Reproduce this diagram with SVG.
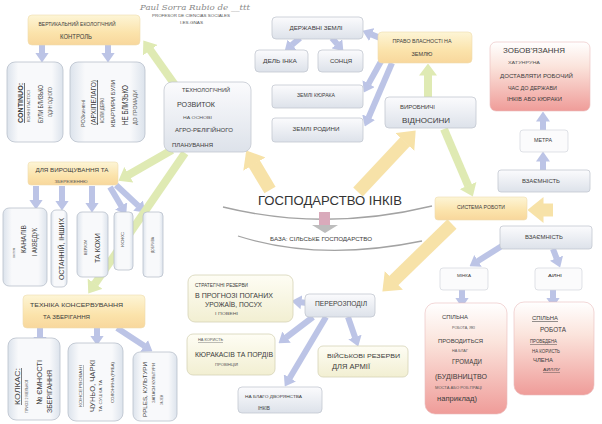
<svg xmlns="http://www.w3.org/2000/svg" width="602" height="424" viewBox="0 0 602 424">
<defs>
<linearGradient id="gB" x1="0" y1="0" x2="0" y2="1"><stop offset="0" stop-color="#fbfbfd"/><stop offset="1" stop-color="#dde2ea"/></linearGradient>
<linearGradient id="gO" x1="0" y1="0" x2="0" y2="1"><stop offset="0" stop-color="#fdf5d6"/><stop offset="0.6" stop-color="#fbe3ab"/><stop offset="1" stop-color="#f8d79c"/></linearGradient>
<linearGradient id="gP" x1="0" y1="0" x2="0" y2="1"><stop offset="0" stop-color="#ffffff"/><stop offset="0.35" stop-color="#fbe4dc"/><stop offset="1" stop-color="#ef9c99"/></linearGradient>
<linearGradient id="gC" x1="0" y1="0" x2="0" y2="1"><stop offset="0" stop-color="#fefdf4"/><stop offset="1" stop-color="#f2efd2"/></linearGradient>
<linearGradient id="gV" x1="0" y1="0" x2="1" y2="0"><stop offset="0" stop-color="#dce3ec"/><stop offset="0.2" stop-color="#f8f9fb"/><stop offset="0.8" stop-color="#f8f9fb"/><stop offset="1" stop-color="#dce3ec"/></linearGradient>
<marker id="hb" markerUnits="userSpaceOnUse" viewBox="0 0 10 14" markerWidth="10" markerHeight="14" refX="0.5" refY="7" orient="auto"><path d="M0,0 L10,7 L0,14z" fill="#bcc4e6"/></marker>
<marker id="hg" markerUnits="userSpaceOnUse" viewBox="0 0 12 18" markerWidth="12" markerHeight="18" refX="0.5" refY="9" orient="auto"><path d="M0,0 L12,9 L0,18z" fill="#dfeab3"/></marker>
<marker id="hy" markerUnits="userSpaceOnUse" viewBox="0 0 16 26" markerWidth="16" markerHeight="26" refX="0.5" refY="13" orient="auto"><path d="M0,0 L16,13 L0,26z" fill="#f7e2a8"/></marker>
</defs>
<style>
text{font-family:"Liberation Sans",Arial,sans-serif;fill:#3c3c3c}
.bx{fill:url(#gB);stroke:#c3c8d1;stroke-width:0.8}
.bo{fill:url(#gO);stroke:#eedcae;stroke-width:0.6}
.bp{fill:url(#gP);stroke:#e9bcbc;stroke-width:0.6}
.bc{fill:url(#gC);stroke:#d5d3b6;stroke-width:0.8}
.bv{fill:url(#gV);stroke:#b9c0cb;stroke-width:0.8}
.bw{fill:#fbfbfc;stroke:#d3d6dc;stroke-width:0.7}
.ab{stroke:#bcc4e6;stroke-width:6;fill:none;marker-end:url(#hb)}
.ag{stroke:#dfeab3;stroke-width:8;fill:none;marker-end:url(#hg)}
.ay{stroke:#f7e2a8;stroke-width:13;fill:none;marker-end:url(#hy)}
.s{fill:#555}
.u{text-decoration:underline}
</style>
<rect width="602" height="424" fill="#ffffff"/>

<g id="header">
<text x="140" y="10" font-size="8" font-style="italic" style="font-family:'DejaVu Serif',serif;fill:#8a8a8a" textLength="110" lengthAdjust="spacingAndGlyphs">Paul Sorra Rubio de __ttt</text>
<text x="152" y="17" font-size="4" class="s" textLength="78" lengthAdjust="spacingAndGlyphs">PROFESOR DE CIENCIAS SOCIALES</text>
<text x="180" y="24" font-size="3.8" class="s" textLength="23" lengthAdjust="spacingAndGlyphs">I.ES.GNAS</text>
</g>

<g id="connectors">
<line class="ab" x1="42" y1="45" x2="42" y2="53"/>
<line class="ab" x1="108" y1="45" x2="108" y2="53"/>
<line class="ab" x1="36" y1="186" x2="36" y2="200"/>
<line class="ab" x1="62" y1="186" x2="62" y2="201"/>
<line class="ab" x1="92" y1="186" x2="92" y2="203"/>
<line class="ab" x1="110" y1="187" x2="121.4" y2="206.3"/>
<line class="ab" x1="116" y1="185" x2="138.4" y2="205.9"/>
<line class="ab" x1="40" y1="328" x2="40" y2="337"/>
<line class="ab" x1="97" y1="328" x2="97" y2="336"/>
<line class="ab" x1="117" y1="328" x2="144.5" y2="346.1"/>
<line class="ab" x1="300" y1="38" x2="291.8" y2="45.1"/>
<line class="ab" x1="332" y1="38" x2="337.2" y2="44.1"/>
<line class="ab" x1="390" y1="42" x2="371.3" y2="34.4"/>
<line class="ab" x1="384" y1="56" x2="368.4" y2="84.1"/>
<line class="ab" x1="392" y1="63" x2="368.5" y2="117.7"/>
<line class="ab" x1="543" y1="130" x2="543" y2="121"/>
<line class="ab" x1="543" y1="170" x2="543" y2="161"/>
<line class="ab" x1="505" y1="244" x2="477.6" y2="261.2"/>
<line class="ab" x1="553" y1="249" x2="556.7" y2="258.6"/>
<line class="ab" x1="462" y1="290" x2="462" y2="298"/>
<line class="ab" x1="553" y1="290" x2="553" y2="298"/>
<line class="ab" x1="307" y1="303" x2="300.9" y2="302.2"/>
<line class="ab" x1="313" y1="317" x2="286.1" y2="337.5"/>
<line class="ab" x1="326" y1="317" x2="289.6" y2="378.3"/>
<line class="ab" x1="348" y1="317" x2="355.1" y2="337.5"/>
<line class="ag" x1="180" y1="92" x2="150" y2="49.8"/>
<line class="ag" x1="172" y1="150" x2="128.4" y2="175"/>
<line class="ag" x1="185" y1="153" x2="94.8" y2="284.1"/>
<line class="ag" x1="428" y1="97" x2="428" y2="75"/>
<line class="ag" x1="444" y1="129" x2="468.3" y2="186"/>
<line class="ay" x1="270" y1="190" x2="254.2" y2="163.7"/>
<line class="ay" x1="358" y1="192" x2="405.1" y2="141.7"/>
<line class="ay" x1="452" y1="224" x2="393.5" y2="280.8"/>
<line class="ay" x1="553" y1="210" x2="543" y2="210"/>
</g>

<g id="vertical-control">
<rect class="bo" x="28" y="15" width="112" height="30" rx="4"/>
<text x="77" y="26" font-size="5" text-anchor="middle" textLength="77" lengthAdjust="spacingAndGlyphs">ВЕРТИКАЛЬНИЙ ЕКОЛОГІЧНИЙ</text>
<text x="76" y="39" font-size="6.5" text-anchor="middle" textLength="32" lengthAdjust="spacingAndGlyphs">КОНТРОЛЬ</text>
</g>

<g id="continuo">
<rect class="bv" x="7" y="62" width="56" height="80" rx="8"/>
<text transform="translate(23,123) rotate(-90)" font-size="7" font-weight="bold" class="u" textLength="40" lengthAdjust="spacingAndGlyphs">CONTINUO:</text>
<text transform="translate(29.5,122) rotate(-90)" font-size="4" class="s" textLength="32" lengthAdjust="spacingAndGlyphs">КОЖНІ ПАСТОСІ</text>
<text transform="translate(43,123) rotate(-90)" font-size="7.5" textLength="38" lengthAdjust="spacingAndGlyphs">БУЛИ БЛИЗЬКО</text>
<text transform="translate(52,117) rotate(-90)" font-size="5" class="s" textLength="30" lengthAdjust="spacingAndGlyphs">ОДИН ОДНОГО</text>
</g>

<g id="archipelago">
<rect class="bv" x="70" y="62" width="75" height="80" rx="8"/>
<text transform="translate(85,127) rotate(-90)" font-size="4.5" class="s" textLength="27" lengthAdjust="spacingAndGlyphs">РОЗкинені</text>
<text transform="translate(96,125) rotate(-90)" font-size="7" class="u" textLength="45" lengthAdjust="spacingAndGlyphs">(АРХІПЕЛАГО)</text>
<text transform="translate(104,123) rotate(-90)" font-size="4.5" class="s" textLength="25" lengthAdjust="spacingAndGlyphs">КОЛИ ДЕРКІ</text>
<text transform="translate(115,127) rotate(-90)" font-size="6" textLength="47" lengthAdjust="spacingAndGlyphs">КВАРТИРИ БУЛИ</text>
<text transform="translate(128,125) rotate(-90)" font-size="8.5" textLength="40" lengthAdjust="spacingAndGlyphs">НЕ БЛИЗЬКО</text>
<text transform="translate(137,125) rotate(-90)" font-size="5" class="s" textLength="35" lengthAdjust="spacingAndGlyphs">ДО ГРОМАДИ</text>
</g>

<g id="tech-development">
<rect class="bx" x="164" y="82" width="87" height="70" rx="8"/>
<text x="182" y="92" font-size="5" textLength="48" lengthAdjust="spacingAndGlyphs">ТЕХНОЛОГІЧНИЙ</text>
<text x="177" y="107" font-size="8" textLength="38" lengthAdjust="spacingAndGlyphs">РОЗВИТОК</text>
<text x="183" y="119" font-size="4" class="s" textLength="29" lengthAdjust="spacingAndGlyphs">НА ОСНОВІ</text>
<text x="175" y="132" font-size="6" textLength="58" lengthAdjust="spacingAndGlyphs">АГРО-РЕЛІГІЙНОГО</text>
<text x="172" y="147" font-size="6" textLength="41" lengthAdjust="spacingAndGlyphs">ПЛАНУВАННЯ</text>
</g>

<g id="growing">
<rect class="bo" x="28" y="162" width="90" height="23" rx="3"/>
<text x="72" y="172" font-size="5.5" text-anchor="middle" textLength="73" lengthAdjust="spacingAndGlyphs">ДЛЯ ВИРОЩУВАННЯ ТА</text>
<text x="71" y="183" font-size="3.8" class="s" text-anchor="middle" textLength="33" lengthAdjust="spacingAndGlyphs">ЗБЕРЕЖЕННЮ</text>
</g>

<g id="canals">
<rect class="bv" x="3" y="208" width="44" height="78" rx="6"/>
<text transform="translate(15,258) rotate(-90)" font-size="4" class="s" textLength="10" lengthAdjust="spacingAndGlyphs">систем</text>
<text transform="translate(26,253) rotate(-90)" font-size="7" textLength="28" lengthAdjust="spacingAndGlyphs">КАНАЛІВ</text>
<text transform="translate(37,256) rotate(-90)" font-size="7" textLength="28" lengthAdjust="spacingAndGlyphs">І АКВЕДУК</text>
</g>
<g id="others">
<rect class="bv" x="51" y="210" width="16" height="77" rx="5"/>
<text transform="translate(63.5,280) rotate(-90)" font-size="6.5" textLength="62" lengthAdjust="spacingAndGlyphs">ОСТАННІЙ, ІНШИХ</text>
</g>
<g id="verkhom">
<rect class="bv" x="77" y="212" width="31" height="65" rx="5"/>
<text transform="translate(87,255) rotate(-90)" font-size="4" class="s" textLength="15" lengthAdjust="spacingAndGlyphs">ВЕРХОМ</text>
<text transform="translate(100,263) rotate(-90)" font-size="7" textLength="30" lengthAdjust="spacingAndGlyphs">ТА КОХИ</text>
</g>
<g id="koks">
<rect class="bv" x="114" y="212" width="19" height="58" rx="4"/>
<text transform="translate(124,247) rotate(-90)" font-size="4" class="s" textLength="15" lengthAdjust="spacingAndGlyphs">КОКС</text>
</g>
<g id="fertilizer">
<rect class="bv" x="143" y="212" width="20" height="65" rx="4"/>
<text transform="translate(154,253) rotate(-90)" font-size="4" class="s" textLength="16" lengthAdjust="spacingAndGlyphs">ДОБРИВА</text>
</g>

<g id="conservation">
<rect class="bo" x="23" y="295" width="122" height="33" rx="4"/>
<text x="30" y="307" font-size="6" textLength="93" lengthAdjust="spacingAndGlyphs">ТЕХНІКА КОНСЕРВУВАННЯ</text>
<text x="43" y="319" font-size="5.5" textLength="47" lengthAdjust="spacingAndGlyphs">ТА ЗБЕРІГАННЯ</text>
</g>

<g id="kolkas">
<rect class="bv" x="8" y="338" width="52" height="82" rx="8"/>
<text transform="translate(20,405) rotate(-90)" font-size="6.5" class="u" textLength="37" lengthAdjust="spacingAndGlyphs">КОЛКАС:</text>
<text transform="translate(28,413) rotate(-90)" font-size="3.8" class="s" textLength="33" lengthAdjust="spacingAndGlyphs">ПРИОЗ 2 МЕЛЬНОЇ</text>
<text transform="translate(42,405) rotate(-90)" font-size="8" textLength="45" lengthAdjust="spacingAndGlyphs">№ ЄМНОСТІ</text>
<text transform="translate(52,413) rotate(-90)" font-size="6.5" textLength="43" lengthAdjust="spacingAndGlyphs">ЗБЕРІГАННЯ</text>
</g>
<g id="chuno">
<rect class="bv" x="68" y="343" width="55" height="78" rx="8"/>
<text transform="translate(82,407) rotate(-90)" font-size="3.8" class="s u" textLength="42" lengthAdjust="spacingAndGlyphs">КОНСЕРВОВАНІ</text>
<text transform="translate(95,412) rotate(-90)" font-size="7" textLength="52" lengthAdjust="spacingAndGlyphs">ЧУНЬО, ЧАРКІ</text>
<text transform="translate(102,412) rotate(-90)" font-size="4" class="s" textLength="32" lengthAdjust="spacingAndGlyphs">ТА СУШКА ТА</text>
<text transform="translate(114,403) rotate(-90)" font-size="4" class="s" textLength="41" lengthAdjust="spacingAndGlyphs">СОЛОНИНА (РИБА)</text>
</g>
<g id="cultures">
<rect class="bv" x="133" y="352" width="44" height="69" rx="7"/>
<text transform="translate(147,417) rotate(-90)" font-size="5.5" textLength="55" lengthAdjust="spacingAndGlyphs">РРLES, КУЛЬТУРИ</text>
<text transform="translate(155,403) rotate(-90)" font-size="3.8" class="s" textLength="40" lengthAdjust="spacingAndGlyphs">ЗАПАСИ КУЛЬТУРИ</text>
<text transform="translate(163,405) rotate(-90)" font-size="3.5" class="s" textLength="10" lengthAdjust="spacingAndGlyphs">ЗА ЗЕМ</text>
</g>

<g id="state-lands">
<rect class="bx" x="272" y="17" width="91" height="22" rx="4"/>
<text x="316" y="30" font-size="6" text-anchor="middle" textLength="53" lengthAdjust="spacingAndGlyphs">ДЕРЖАВНІ ЗЕМЛІ</text>
</g>
<g id="inca-part">
<rect class="bx" x="255" y="50" width="53" height="22" rx="4"/>
<text x="280" y="63" font-size="6" text-anchor="middle" textLength="34" lengthAdjust="spacingAndGlyphs">ДЕЛЬ ІНКА</text>
</g>
<g id="sun">
<rect class="bx" x="318" y="50" width="45" height="22" rx="4"/>
<text x="341" y="63" font-size="6" text-anchor="middle" textLength="22" lengthAdjust="spacingAndGlyphs">СОНЦЯ</text>
</g>
<g id="kuraka-lands">
<rect class="bx" x="272" y="85" width="91" height="23" rx="3"/>
<text x="316" y="97" font-size="4.5" text-anchor="middle" textLength="38" lengthAdjust="spacingAndGlyphs">ЗЕМЛІ КЮРАКА</text>
</g>
<g id="family-lands">
<rect class="bx" x="272" y="118" width="91" height="24" rx="3"/>
<text x="316" y="131" font-size="5.5" text-anchor="middle" textLength="47" lengthAdjust="spacingAndGlyphs">ЗЕМЛІ РОДИНИ</text>
</g>

<g id="land-right">
<rect class="bo" x="378" y="32" width="94" height="31" rx="4"/>
<text x="422" y="43" font-size="4.5" text-anchor="middle" textLength="59" lengthAdjust="spacingAndGlyphs">ПРАВО ВЛАСНОСТІ НА</text>
<text x="422" y="56" font-size="5.5" text-anchor="middle" textLength="21" lengthAdjust="spacingAndGlyphs">ЗЕМЛЮ</text>
</g>
<g id="production-relations">
<rect class="bx" x="385" y="97" width="91" height="31" rx="4"/>
<text x="400" y="109" font-size="5" textLength="35" lengthAdjust="spacingAndGlyphs">ВИРОБНИЧІ</text>
<text x="402" y="123" font-size="8" textLength="48" lengthAdjust="spacingAndGlyphs">ВІДНОСИНИ</text>
</g>

<g id="obligation">
<rect class="bp" x="490" y="42" width="100" height="69" rx="6"/>
<text x="503" y="53" font-size="8" textLength="62" lengthAdjust="spacingAndGlyphs">ЗОБОВ'ЯЗАННЯ</text>
<text x="508" y="64" font-size="4" class="s" textLength="32" lengthAdjust="spacingAndGlyphs">ХАТУНРУНА</text>
<text x="500" y="78" font-size="5.5" textLength="73" lengthAdjust="spacingAndGlyphs">ДОСТАВЛЯТИ РОБОЧИЙ</text>
<text x="508" y="90" font-size="5.5" textLength="49" lengthAdjust="spacingAndGlyphs">ЧАС ДО ДЕРЖАВИ</text>
<text x="507" y="101" font-size="5.5" textLength="55" lengthAdjust="spacingAndGlyphs">ІНКІВ АБО КЮРАКИ</text>
</g>
<g id="metra">
<rect class="bw" x="520" y="130" width="48" height="22" rx="3"/>
<text x="543" y="142" font-size="4.5" text-anchor="middle" textLength="18" lengthAdjust="spacingAndGlyphs">МЕТРА</text>
</g>
<g id="reciprocity-top">
<rect class="bx" x="498" y="170" width="92" height="22" rx="3"/>
<text x="541" y="183" font-size="6" text-anchor="middle" textLength="38" lengthAdjust="spacingAndGlyphs">ВЗАЄМНІСТЬ</text>
</g>
<g id="work-system">
<rect class="bo" x="435" y="197" width="92" height="23" rx="3"/>
<text x="457" y="209" font-size="5.5" textLength="48" lengthAdjust="spacingAndGlyphs">СИСТЕМА РОБОТИ</text>
</g>
<g id="reciprocity-bottom">
<rect class="bx" x="500" y="226" width="92" height="23" rx="3"/>
<text x="544" y="239" font-size="6" text-anchor="middle" textLength="38" lengthAdjust="spacingAndGlyphs">ВЗАЄМНІСТЬ</text>
</g>
<g id="minka">
<rect class="bw" x="440" y="268" width="48" height="22" rx="3"/>
<text x="464" y="277" font-size="4" text-anchor="middle" textLength="14" lengthAdjust="spacingAndGlyphs">МІНКА</text>
</g>
<g id="ayni">
<rect class="bw" x="535" y="268" width="47" height="22" rx="3"/>
<text x="555" y="277" font-size="4" text-anchor="middle" textLength="14" lengthAdjust="spacingAndGlyphs">АЙНІ</text>
</g>
<g id="common-work">
<rect class="bp" x="425" y="303" width="82" height="111" rx="10"/>
<text x="442" y="319" font-size="6" textLength="26" lengthAdjust="spacingAndGlyphs">СПІЛЬНА</text>
<text x="452" y="329" font-size="4" class="s" textLength="23" lengthAdjust="spacingAndGlyphs">РОБОТА, ЯКІ</text>
<text x="438" y="343" font-size="6" textLength="45" lengthAdjust="spacingAndGlyphs">ПРОВОДИТЬСЯ</text>
<text x="452" y="352" font-size="4" class="s" textLength="16" lengthAdjust="spacingAndGlyphs">НА БЛАГ</text>
<text x="452" y="364" font-size="7" textLength="30" lengthAdjust="spacingAndGlyphs">ГРОМАДИ</text>
<text x="435" y="379" font-size="7" textLength="52" lengthAdjust="spacingAndGlyphs">(БУДІВНИЦТВО</text>
<text x="435" y="389" font-size="3.8" class="s" textLength="47" lengthAdjust="spacingAndGlyphs">МОСТА АБО РОБ.ПРАЦІ</text>
<text x="437" y="401" font-size="6.5" textLength="40" lengthAdjust="spacingAndGlyphs">наприклад)</text>
</g>
<g id="common-work-ayllu">
<rect class="bp" x="514" y="302" width="80" height="93" rx="10"/>
<text x="532" y="320" font-size="5.5" class="u" textLength="26" lengthAdjust="spacingAndGlyphs">СПІЛЬНА</text>
<text x="540" y="332" font-size="6.5" textLength="26" lengthAdjust="spacingAndGlyphs">РОБОТА</text>
<text x="530" y="343" font-size="4.5" class="u" textLength="27" lengthAdjust="spacingAndGlyphs">ПРОВЕДЕНА</text>
<text x="532" y="353" font-size="4.5" textLength="28" lengthAdjust="spacingAndGlyphs">НА КОРИСТЬ</text>
<text x="533" y="362" font-size="4.5" textLength="20" lengthAdjust="spacingAndGlyphs">ЧЛЕНА</text>
<text x="543" y="371" font-size="4" class="u" textLength="17" lengthAdjust="spacingAndGlyphs">АЙЛЛУ</text>
</g>

<g id="inca-economy">
<text x="258" y="205" font-size="13" textLength="144" lengthAdjust="spacingAndGlyphs" style="fill:#333">ГОСПОДАРСТВО ІНКІВ</text>
<path d="M223 207 Q325 232 432 206" fill="none" stroke="#a3a3a3" stroke-width="1.3"/>
<path d="M238 236 Q320 262 422 241" fill="none" stroke="#a3a3a3" stroke-width="1.3"/>
<rect x="319" y="212" width="11" height="13" fill="#d9aabb"/>
<path d="M312 225 L338 225 L325 233z" fill="#bdbdbd"/>
<text x="270" y="241" font-size="4.8" textLength="102" lengthAdjust="spacingAndGlyphs">БАЗА: СІЛЬСЬКЕ ГОСПОДАРСТВО</text>
</g>

<g id="strategic-reserves">
<rect class="bc" x="188" y="275" width="105" height="47" rx="7"/>
<text x="195" y="287" font-size="4.5" textLength="53" lengthAdjust="spacingAndGlyphs">СТРАТЕГІЧНІ РЕЗЕРВИ</text>
<text x="195" y="298" font-size="6.5" textLength="78" lengthAdjust="spacingAndGlyphs">В ПРОГНОЗІ ПОГАНИХ</text>
<text x="205" y="307" font-size="6.5" textLength="57" lengthAdjust="spacingAndGlyphs">УРОЖАЇВ, ПОСУХ</text>
<text x="215" y="315" font-size="3.8" class="s" textLength="23" lengthAdjust="spacingAndGlyphs">І ПОВЕНІ</text>
</g>
<g id="redistribution">
<rect class="bx" x="305" y="294" width="70" height="23" rx="4"/>
<text x="315" y="306" font-size="7.5" textLength="52" lengthAdjust="spacingAndGlyphs">ПЕРЕРОЗПОДІЛ</text>
</g>
<g id="kurakas">
<rect class="bc" x="187" y="334" width="88" height="41" rx="6"/>
<text x="198" y="341" font-size="3.8" class="s u" textLength="25" lengthAdjust="spacingAndGlyphs">НА КОРИСТЬ</text>
<text x="195" y="357" font-size="6.5" textLength="78" lengthAdjust="spacingAndGlyphs">КЮРАКАСІВ ТА ПОРДІВ</text>
<text x="215" y="366" font-size="3.8" class="s" textLength="23" lengthAdjust="spacingAndGlyphs">ПРОВІНЦІЙ</text>
</g>
<g id="military-reserves">
<rect class="bc" x="318" y="346" width="90" height="31" rx="5"/>
<text x="327" y="358" font-size="6" textLength="73" lengthAdjust="spacingAndGlyphs">ВІЙСЬКОВІ РЕЗЕРВИ</text>
<text x="332" y="369" font-size="7" textLength="38" lengthAdjust="spacingAndGlyphs">ДЛЯ АРМІЇ</text>
</g>
<g id="nobility">
<rect class="bx" x="238" y="387" width="84" height="26" rx="4"/>
<text x="245" y="398" font-size="3.8" textLength="57" lengthAdjust="spacingAndGlyphs">НА БЛАГО ДВОРЯНСТВА</text>
<text x="258" y="410" font-size="5" textLength="12" lengthAdjust="spacingAndGlyphs">ІНКІВ</text>
</g>
</svg>
